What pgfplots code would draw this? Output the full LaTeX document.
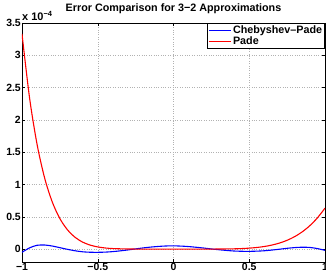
\documentclass[border=0pt]{standalone}
\usepackage{fontspec}
\setmainfont{Liberation Sans}
\usepackage{pgfplots}
\pgfplotsset{compat=1.18}
\begin{document}
\begin{tikzpicture}
\begin{axis}[
  name=ax,
  scale only axis,
  width=303bp, height=239bp,
  xmin=-1, xmax=1, ymin=-0.2, ymax=3.5,
  xtick={-1,-0.5,0,0.5,1},
  xticklabels={−1,−0.5,0,0.5,1},
  ytick={0,0.5,1,1.5,2,2.5,3,3.5},
  yticklabels={0,0.5,1,1.5,2,2.5,3,3.5},
  tick label style={font=\fontsize{10.5}{11}\selectfont\bfseries},
  yticklabel style={inner sep=1pt},
  xticklabel style={inner sep=1pt},
  grid=major,
  major grid style={gray!60, dotted, line width=0.5pt},
  tick align=inside,
  major tick length=3bp,
  tick style={black, line width=0.5pt},
  axis line style={black, line width=0.7pt},
  title={Error Comparison for 3−2 Approximations},
  title style={font=\fontsize{10.8}{12}\selectfont\bfseries, at={(0.5,1)}, anchor=south, yshift=2bp, inner sep=1pt},
  legend style={at={(1,1)}, anchor=north east, draw=black, line width=0.7pt,
    font=\fontsize{10.8}{12}\selectfont\bfseries, inner sep=1pt, row sep=-1.5pt,
    nodes={inner sep=1.5pt}},
  legend cell align=left,
  legend image code/.code={\draw[#1, line width=1.1bp] (0bp,0bp) -- (22bp,0bp);},
]
\addplot[blue, line width=1.1bp, smooth] coordinates {
(-1,-0.050) (-0.95,0.019) (-0.9,0.059) (-0.85,0.063) (-0.8,0.047) (-0.75,0.022)
(-0.7,-0.004) (-0.65,-0.026) (-0.6,-0.042) (-0.55,-0.049) (-0.5,-0.050) (-0.45,-0.047)
(-0.4,-0.039) (-0.35,-0.027) (-0.3,-0.013) (-0.25,0.003) (-0.2,0.018) (-0.15,0.031)
(-0.1,0.041) (-0.05,0.048) (0,0.050) (0.05,0.046) (0.1,0.039) (0.15,0.028)
(0.2,0.016) (0.25,0.002) (0.3,-0.010) (0.35,-0.021) (0.4,-0.030) (0.45,-0.034)
(0.5,-0.035) (0.55,-0.032) (0.6,-0.026) (0.65,-0.015) (0.7,-0.002) (0.75,0.012)
(0.8,0.023) (0.85,0.029) (0.9,0.025) (0.95,0.008) (1,-0.020)
};
\addlegendentry{Chebyshev–Pade}
\addplot[red, line width=1.1bp, smooth] coordinates {
(-1,3.331) (-0.95,2.339) (-0.9,1.615) (-0.85,1.095) (-0.8,0.728) (-0.75,0.472)
(-0.7,0.299) (-0.65,0.183) (-0.6,0.108) (-0.55,0.0615) (-0.5,0.0332) (-0.45,0.0169)
(-0.4,0.0080) (-0.3,0.0013) (-0.2,0.0001) (-0.1,0) (0,0) (0.1,0) (0.2,0.0001)
(0.3,0.0008) (0.4,0.0041) (0.45,0.0080) (0.5,0.0145) (0.55,0.0247) (0.6,0.0401)
(0.65,0.0623) (0.7,0.0935) (0.75,0.1361) (0.8,0.1930) (0.85,0.2673) (0.9,0.3628)
(0.95,0.4834) (1,0.6335)
};
\addlegendentry{Pade}
\end{axis}
\node[anchor=south west, inner sep=0pt, font=\fontsize{11}{12}\selectfont\bfseries] at ([yshift=2bp]ax.north west) {x 10\raisebox{4.5bp}{\fontsize{7.5}{8}\selectfont\bfseries −4}};
\pgfresetboundingbox
\path[use as bounding box] ([xshift=-22bp,yshift=-14bp]ax.south west) rectangle ([xshift=1bp,yshift=23bp]ax.north east);
\end{tikzpicture}
\end{document}
